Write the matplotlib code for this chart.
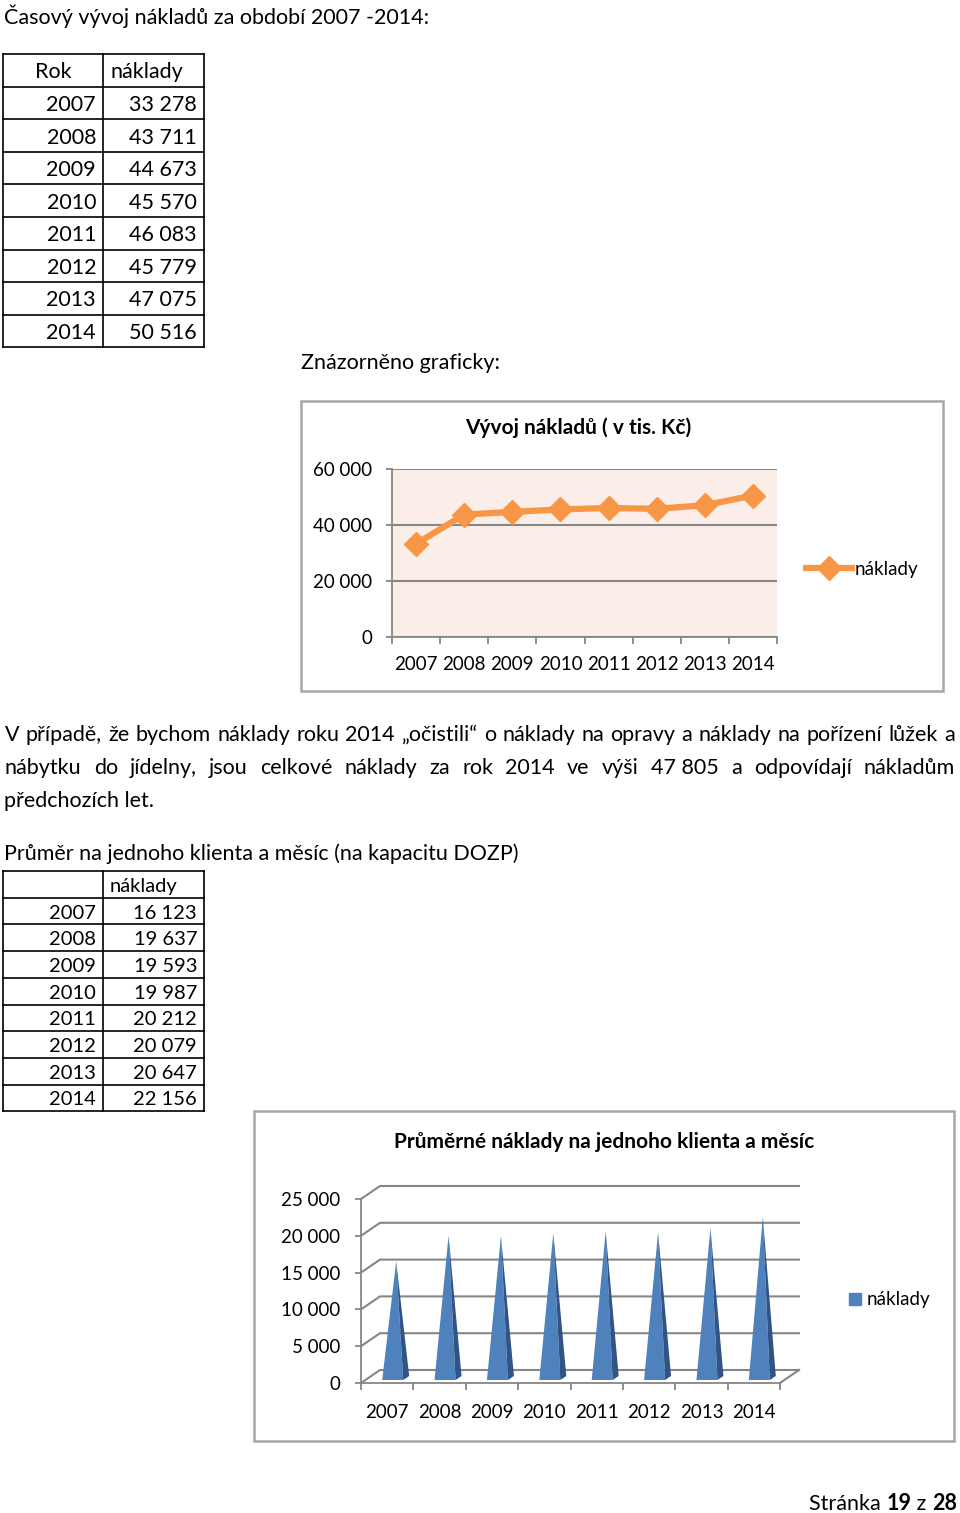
import numpy as np
import matplotlib
matplotlib.use('Agg')
import matplotlib.pyplot as plt
from matplotlib.patches import Polygon, Rectangle, Patch
from matplotlib.lines import Line2D
from matplotlib.ticker import FuncFormatter
from matplotlib.transforms import IdentityTransform

plt.rcParams['font.family'] = ['Lato', 'DejaVu Sans']

# data
years = [2007, 2008, 2009, 2010, 2011, 2012, 2013, 2014]
costs = [33278, 43711, 44673, 45570, 46083, 45779, 47075, 50516]
avg_costs = [16123, 19637, 19593, 19987, 20212, 20079, 20647, 22156]

title_top = "Časový vývoj nákladů za období 2007 -2014:"
title_graph = "Znázorněno graficky:"
chart1_title = "Vývoj nákladů ( v tis. Kč)"
chart2_title = "Průměrné náklady na jednoho klienta a měsíc"
series_name = "náklady"
para_lines = ["V případě, že bychom náklady roku 2014 „očistili“ o náklady na opravy a náklady na pořízení lůžek a",
              "nábytku do jídelny, jsou celkové náklady za rok 2014 ve výši 47\u00a0805 a odpovídají nákladům",
              "předchozích let."]
title_avg = "Průměr na jednoho klienta a měsíc (na kapacitu DOZP)"

W, H = 960, 1513
fig = plt.figure(figsize=(W / 100, H / 100), dpi=100)
renderer = fig.canvas.get_renderer()

# page layer, 1 data unit = 1 pixel, y going down
page = fig.add_axes([0, 0, 1, 1])
page.set_xlim(0, W)
page.set_ylim(H, 0)
page.axis('off')


def px_axes(x0, y0, x1, y1):
    return fig.add_axes([x0 / W, 1 - y1 / H, (x1 - x0) / W, (y1 - y0) / H])


def fmt(v):
    return f"{v:,.0f}".replace(",", " ")


def draw_table(top, row_h, header, rows, size):
    n = len(rows) + 1
    for i in range(n + 1):
        page.plot([3, 204], [top + i * row_h] * 2, color='black', lw=1.2)
    for xx in (3, 103, 204):
        page.plot([xx, xx], [top, top + n * row_h], color='black', lw=1.2)
    page.text(53, top + row_h / 2 + 2, header, fontsize=size, ha='center', va='center')
    page.text(110, top + row_h / 2 + 2, series_name, fontsize=size, ha='left', va='center')
    for i, (yr, v) in enumerate(rows):
        yc = top + (i + 1.5) * row_h + 2
        page.text(96, yc, str(yr), fontsize=size, ha='right', va='center')
        page.text(197, yc, fmt(v), fontsize=size, ha='right', va='center')


def justify(line, y, x0=5, x1=955, size=15.5):
    words = line.split(' ')
    texts = [page.text(0, y, w, fontsize=size, va='center') for w in words]
    widths = [t.get_window_extent(renderer).width for t in texts]
    gap = (x1 - x0 - sum(widths)) / (len(words) - 1)
    xx = x0
    for t, w in zip(texts, widths):
        t.set_x(xx)
        xx += w + gap


body = 15.5
page.text(4, 16, title_top, fontsize=body, va='center')
draw_table(54, 32.6, "Rok", list(zip(years, costs)), body)
page.text(301, 363, title_graph, fontsize=body, va='center')

# chart 1 frame
page.add_patch(Rectangle((301, 401), 642, 290, fill=False, ec='#a6a6a6', lw=1.8))
page.text(578, 428, chart1_title, fontsize=15, fontweight='bold', ha='center', va='center')

grid_c = '#868686'
ax1 = px_axes(392, 469, 777, 637)
ax1.set_facecolor('#fbeee9')
x = np.arange(len(years))
ax1.plot(x, costs, color='#f79646', lw=4.5, marker='D', ms=12, label=series_name,
         solid_joinstyle='round', clip_on=False, zorder=3)
ax1.set_xlim(-0.5, 7.5)
ax1.set_ylim(0, 60000)
ax1.set_yticks([0, 20000, 40000, 60000])
ax1.yaxis.set_major_formatter(FuncFormatter(lambda v, p: fmt(v)))
ax1.grid(axis='y', color=grid_c, lw=1.5)
ax1.set_axisbelow(True)
ax1.set_xticks(x)
ax1.set_xticklabels(years)
ax1.set_xticks(np.arange(-0.5, 8, 1), minor=True)
ax1.tick_params(axis='x', which='major', length=0, pad=14, labelsize=13.5)
ax1.tick_params(axis='x', which='minor', length=5, color=grid_c, width=1.3)
ax1.tick_params(axis='y', length=4, color=grid_c, width=1.3, pad=10, labelsize=13.5)
for s in ('top', 'right'):
    ax1.spines[s].set_visible(False)
for s in ('left', 'bottom'):
    ax1.spines[s].set_color(grid_c)
    ax1.spines[s].set_linewidth(1.3)
ax1.legend(loc='center left', bbox_to_anchor=(806 / W, 1 - 569 / H), bbox_transform=fig.transFigure,
           frameon=False, handlelength=2.45, handletextpad=0.15, fontsize=13.5,
           borderpad=0, borderaxespad=0)

# paragraph
justify(para_lines[0], 735)
justify(para_lines[1], 768)
page.text(4, 801, para_lines[2], fontsize=body, va='center')

page.text(4, 854, title_avg, fontsize=body, va='center')
draw_table(871, 26.7, "", list(zip(years, avg_costs)), 14.5)

# chart 2 frame
page.add_patch(Rectangle((254, 1111), 700, 330, fill=False, ec='#a6a6a6', lw=1.8))
page.text(604, 1142, chart2_title, fontsize=15, fontweight='bold', ha='center', va='center')

ax2 = px_axes(361, 1199, 780, 1383)
ax2.set_facecolor('none')
ax2.set_xlim(-0.5, 7.5)
ax2.set_ylim(0, 25000)
ax2.set_yticks(np.arange(0, 25001, 5000))
ax2.yaxis.set_major_formatter(FuncFormatter(lambda v, p: fmt(v)))
ax2.set_xticks(x)
ax2.set_xticklabels(years)
ax2.set_xticks(np.arange(-0.5, 8, 1), minor=True)
ax2.tick_params(axis='x', which='major', length=0, pad=15, labelsize=13.5)
ax2.tick_params(axis='x', which='minor', length=5, color=grid_c, width=1.3)
ax2.tick_params(axis='y', length=4, color=grid_c, width=1.3, pad=11, labelsize=13.5)
for s in ('top', 'right'):
    ax2.spines[s].set_visible(False)
for s in ('left', 'bottom'):
    ax2.spines[s].set_color(grid_c)
    ax2.spines[s].set_linewidth(1.3)

dx, dy = 19, 13  # depth of the 3D wall in pixels
ident = IdentityTransform()


def pt(xv, yv, ox=0, oy=0):
    X, Y = ax2.transData.transform((xv, yv))
    return X + ox, Y + oy


# back wall gridlines and side diagonals
for v in ax2.get_yticks():
    fx, fy = pt(-0.5, v)
    bx0, by0 = pt(-0.5, v, dx, dy)
    bx1, by1 = pt(7.5, v, dx, dy)
    fig.add_artist(Line2D([fx, bx0, bx1], [fy, by0, by1], color=grid_c, lw=1.5,
                          transform=ident, zorder=1))
fx, fy = pt(7.5, 0)
fig.add_artist(Line2D([fx, fx + dx], [fy, fy + dy], color=grid_c, lw=1.5, transform=ident, zorder=1))

# pyramids
for i, v in enumerate(avg_costs):
    bx, by = pt(i, 0, 5.5, 3)
    tx, ty = pt(i, v, 9, 3)
    front = [(bx - 10.5, by), (bx + 10.5, by), (tx, ty)]
    side = [(bx + 10.5, by), (bx + 16.5, by + 4), (tx, ty)]
    fig.add_artist(Polygon(front, closed=True, fc='#4f81bd', ec='none', transform=ident, zorder=3))
    fig.add_artist(Polygon(side, closed=True, fc='#2f5485', ec='none', transform=ident, zorder=3))

ax2.legend(handles=[Patch(color='#4f81bd', label=series_name)], loc='center left',
           bbox_to_anchor=(849 / W, 1 - 1300 / H), bbox_transform=fig.transFigure,
           frameon=False, handlelength=0.65, handleheight=0.65, handletextpad=0.3,
           fontsize=13.5, borderpad=0, borderaxespad=0)

# footer: Stránka 19 z 28, bold numbers, right aligned
parts = [("Stránka ", 'normal'), ("19", 'bold'), (" z ", 'normal'), ("28", 'bold')]
xr = 957
for s, wgt in reversed(parts):
    t = page.text(xr, 1504, s, fontsize=body, fontweight=wgt, ha='right', va='center')
    xr -= t.get_window_extent(renderer).width

fig.savefig('out.png', dpi=100)
